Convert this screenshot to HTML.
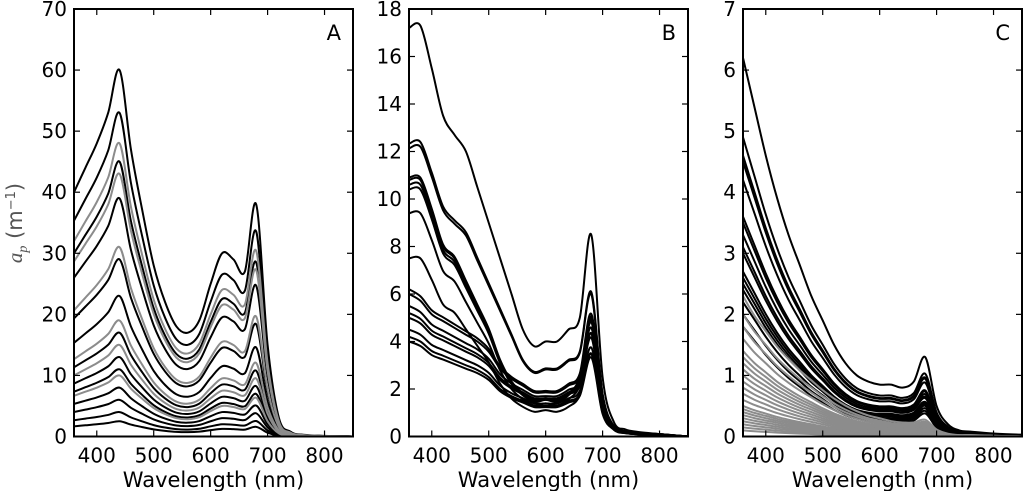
<!DOCTYPE html>
<html><head><meta charset="utf-8"><style>
html,body{margin:0;padding:0;background:#fff;}
svg{display:block;font-family:"DejaVu Sans","Liberation Sans",sans-serif;}
</style></head><body>
<svg id="fig" width="1024" height="491" viewBox="0 0 1024 491" xmlns="http://www.w3.org/2000/svg">
<text transform="translate(22,223) rotate(-90)" text-anchor="middle" font-size="21" fill="#555"><tspan font-style="italic" font-family="Liberation Serif,serif">a</tspan><tspan font-style="italic" font-size="14" dy="5" font-family="Liberation Serif,serif">p</tspan><tspan dy="-5"> (m</tspan><tspan font-size="13" dy="-7">−1</tspan><tspan dy="7">)</tspan></text>
</svg>
<script>
const wl = [360,380,400,420,440,460,480,500,520,540,560,580,600,620,640,660,680,700,720,740,760,800,850];
// Panel A
const shapeA = [40,44,48,53,60,47,37,28,22,18,17,19,25,30,29,27,38,15,3,0.8,0.3,0.1,0];
const scalesA = [60,53,45,39,29,23,17,13,11,8,6,4,2.5];
const scalesAgray = [48,43,31,19,15,10];
// Panel B
const shapeB1 = [17.2,17.3,15.5,13.5,12.7,12,10.5,9,7.5,6,4.5,3.8,4,4,4.5,5,8.5,2.5,0.6,0.3,0.2,0.1,0];
const shapeB2 = [10.8,10.8,9.5,8,7.5,6.5,5.5,4.5,3.2,2.3,1.8,1.5,1.6,1.5,1.8,2.5,5,1.5,0.4,0.2,0.15,0.1,0];
const shapeB3 = [4.2,4.0,3.6,3.4,3.2,3.0,2.8,2.5,2.0,1.7,1.5,1.3,1.3,1.3,1.5,1.8,3.5,1.0,0.3,0.15,0.1,0.05,0];
const scalesB = [17.3,12.4,12.2,10.9,10.8,10.6,10.4,9.4,7.5,6.2,6,5.5,5.2,5,4.5,4.2,4.0];
// Panel C
const shapeC = [6.2,5.4,4.6,3.9,3.3,2.8,2.3,1.9,1.5,1.2,1.0,0.9,0.85,0.85,0.8,0.9,1.3,0.5,0.2,0.1,0.08,0.05,0.03];
const shapeCgray = [1,0.86,0.75,0.64,0.55,0.47,0.4,0.33,0.27,0.22,0.18,0.15,0.13,0.11,0.1,0.1,0.12,0.05,0.02,0.01,0.01,0.005,0];
const scalesC = [6.2,4.9,4.6,4.5,4.2,3.6,3.5,3.3,3.1,3.0,2.7,2.6,2.5,2.4,2.2,2.0,1.8];
const scalesCgray = [2.3,2.0,1.8,1.6,1.4,1.3,1.2,1.1,1.0,0.9,0.8,0.7,0.6,0.5,0.45,0.4,0.35,0.3,0.25,0.2,0.15,0.1];
const ticksX = [400,500,600,700,800];
const ticksYA = [0,10,20,30,40,50,60,70];
const ticksYB = [0,2,4,6,8,10,12,14,16,18];
const ticksYC = [0,1,2,3,4,5,6,7];

const NS="http://www.w3.org/2000/svg";
const svg=document.getElementById('fig');
const TOP=9,BOT=436.5;
function mk(tag,attrs){const e=document.createElementNS(NS,tag);for(const k in attrs)e.setAttribute(k,attrs[k]);return e;}
function panel(name,left,right,ymax,yticks,letter){
  const g=mk('g',{});
  
  
  svg.appendChild(g);
  const xs=v=>left+(v-360)/(850-360)*(right-left);
  const ys=v=>BOT-v/ymax*(BOT-TOP);
  const clip=mk('clipPath',{id:'clip'+name});
  clip.appendChild(mk('rect',{x:left,y:TOP,width:right-left,height:BOT-TOP}));
  svg.appendChild(clip);
  const lines=mk('g',{'clip-path':'url(#clip'+name+')'});
  
  
  g.appendChild(lines);
  function curve(shape,scale,color){
    const ref=Math.max(...shape);
    const pts=shape.map((v,i)=>[xs(wl[i]),ys(v/ref*scale)]);
    let d='M'+pts[0][0]+','+pts[0][1];
    for(let i=0;i<pts.length-1;i++){
      const p0=pts[Math.max(0,i-1)],p1=pts[i],p2=pts[i+1],p3=pts[Math.min(pts.length-1,i+2)];
      const c1=[p1[0]+(p2[0]-p0[0])/6,p1[1]+(p2[1]-p0[1])/6];
      const c2=[p2[0]-(p3[0]-p1[0])/6,p2[1]-(p3[1]-p1[1])/6];
      d+=` C${c1[0]},${c1[1]} ${c2[0]},${c2[1]} ${p2[0]},${p2[1]}`;
    }
    const p=mk('path',{d:d,fill:'none',stroke:color,'stroke-width':2});
    
    
    lines.appendChild(p);
  }
  return {curve,xs,ys,g,finish(){
    const fr=mk('rect',{x:left,y:TOP,width:right-left,height:BOT-TOP,fill:'none',stroke:'#000','stroke-width':2});
    
    
    g.appendChild(fr);
    ticksX.forEach(t=>{
      const x=xs(t);
      g.appendChild(mk('line',{x1:x,x2:x,y1:BOT,y2:BOT-6,stroke:'#000','stroke-width':1.2}));
      g.appendChild(mk('line',{x1:x,x2:x,y1:TOP,y2:TOP+6,stroke:'#000','stroke-width':1.2}));
      const tx=mk('text',{x:x,y:BOT+26,'text-anchor':'middle','font-size':20});
      
      
      tx.textContent=t;g.appendChild(tx);
    });
    yticks.forEach(t=>{
      const y=ys(t);
      g.appendChild(mk('line',{x1:left,x2:left+6,y1:y,y2:y,stroke:'#000','stroke-width':1.2}));
      g.appendChild(mk('line',{x1:right,x2:right-6,y1:y,y2:y,stroke:'#000','stroke-width':1.2}));
      const tx=mk('text',{x:left-7,y:y+7,'text-anchor':'end','font-size':20});
      
      
      tx.textContent=t;g.appendChild(tx);
    });
    const xl=mk('text',{x:(left+right)/2,y:487,'text-anchor':'middle','font-size':21});
    
    
    xl.textContent='Wavelength (nm)';g.appendChild(xl);
    const lt=mk('text',{x:right-12,y:40,'text-anchor':'end','font-size':21});
    
    
    lt.textContent=letter;g.appendChild(lt);
  }};
}
const A=panel('a',74,353,70,ticksYA,'A');
scalesA.forEach(s=>A.curve(shapeA,s,'#000'));
scalesAgray.forEach(s=>A.curve(shapeA,s,'#8c8c8c'));
A.finish();
const B=panel('b',409,688,18,ticksYB,'B');
scalesB.forEach(s=>B.curve(s>12?shapeB1:(s>6.5?shapeB2:shapeB3),s,'#000'));
B.finish();
const C=panel('c',743,1022,7,ticksYC,'C');
scalesC.forEach(s=>C.curve(shapeC,s,'#000'));
scalesCgray.forEach(s=>C.curve(shapeCgray,s,'#8c8c8c'));
C.finish();
</script>
</body></html>
